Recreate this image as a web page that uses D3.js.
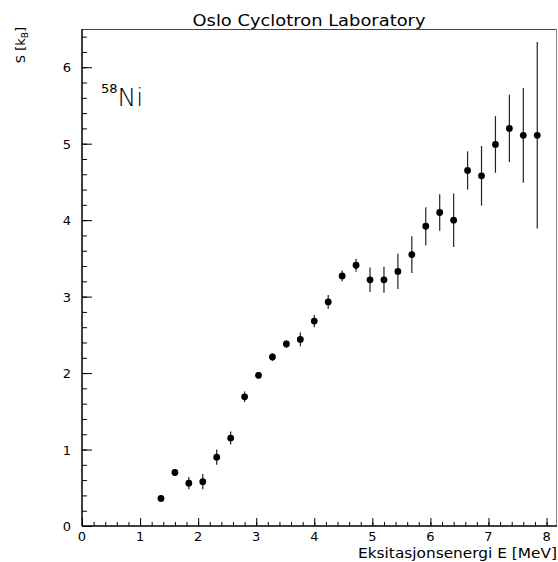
<!DOCTYPE html>
<html><head><meta charset="utf-8">
<script src="https://cdn.jsdelivr.net/npm/d3@7"></script>
<style>
body{margin:0;background:#fff;}
text{font-family:"DejaVu Sans",sans-serif;fill:#000;}
</style></head>
<body>
<svg id="c" width="558" height="562"></svg>
<script>
const energies = [1.36,1.60,1.84,2.08,2.32,2.56,2.80,3.04,3.28,3.52,3.76,4.00,4.24,4.48,4.72,4.96,5.20,5.44,5.68,5.92,6.16,6.40,6.64,6.88,7.12,7.36,7.60,7.84];
const entropy  = [0.36,0.70,0.56,0.58,0.90,1.15,1.69,1.97,2.21,2.38,2.44,2.68,2.93,3.27,3.41,3.22,3.22,3.33,3.55,3.92,4.10,4.00,4.65,4.58,4.99,5.20,5.11,5.11];
const errors   = [0.04,0.04,0.08,0.10,0.10,0.085,0.07,0.04,0.05,0.05,0.09,0.08,0.09,0.07,0.085,0.16,0.17,0.23,0.24,0.25,0.24,0.35,0.25,0.39,0.37,0.44,0.62,1.22];
const xTicks = [0,1,2,3,4,5,6,7,8];
const yTicks = [0,1,2,3,4,5,6];
const titleText = "Oslo Cyclotron Laboratory";
const xLabel = "Eksitasjonsenergi E [MeV]";

const svg = d3.select("#c");
const L=82, R=557, T=29, B=526;
const x = d3.scaleLinear().domain([0,8.18]).range([L,R]);
const y = d3.scaleLinear().domain([0,6.5]).range([B,T]);

// frame top/right
svg.append("line").attr("x1",L).attr("x2",R).attr("y1",T+0.5).attr("y2",T+0.5).attr("stroke","#444").attr("stroke-width",1);
svg.append("line").attr("x1",R-0.5).attr("x2",R-0.5).attr("y1",T).attr("y2",B).attr("stroke","#888").attr("stroke-width",1);

// minor ticks
const xMinor = d3.range(0,41).map(i=>i*0.2).filter(v=>v<=8.18);
const yMinor = d3.range(0,33).map(i=>i*0.2).filter(v=>v<=6.5);

const gx = svg.append("g").attr("transform",`translate(0,${B})`);
gx.call(d3.axisBottom(x).tickValues(xMinor).tickSize(-4).tickFormat(""));
gx.append("g").call(d3.axisBottom(x).tickValues(xTicks).tickSize(-8).tickPadding(0).tickFormat(""));
gx.selectAll(".domain").remove();
gx.selectAll("line").attr("stroke","#000");
svg.append("line").attr("x1",L).attr("x2",R).attr("y1",B).attr("y2",B).attr("stroke","#000").attr("stroke-width",1.5);
svg.append("g").selectAll("text").data(xTicks).join("text")
  .attr("x",d=>x(d)).attr("y",B+15).attr("text-anchor","middle").attr("font-size",13).text(d=>d);

const gy = svg.append("g").attr("transform",`translate(${L},0)`);
gy.call(d3.axisLeft(y).tickValues(yMinor).tickSize(-5).tickFormat(""));
gy.append("g").call(d3.axisLeft(y).tickValues(yTicks).tickSize(-10).tickFormat(""));
gy.selectAll(".domain").remove();
gy.selectAll("line").attr("stroke","#000");
svg.append("line").attr("x1",L).attr("x2",L).attr("y1",T).attr("y2",B).attr("stroke","#000").attr("stroke-width",1.5);
svg.append("g").selectAll("text").data(yTicks).join("text")
  .attr("x",L-15).attr("y",d=>y(d)+5).attr("text-anchor","middle").attr("font-size",13).text(d=>d);

// error bars
const pts = energies.map((e,i)=>({e,s:entropy[i],d:errors[i]}));
svg.append("g").selectAll("line").data(pts).join("line")
  .attr("x1",d=>x(d.e)).attr("x2",d=>x(d.e))
  .attr("y1",d=>y(d.s-d.d)).attr("y2",d=>y(d.s+d.d))
  .attr("stroke","#222").attr("stroke-width",1.2);
svg.append("g").selectAll("circle").data(pts).join("circle")
  .attr("cx",d=>x(d.e)).attr("cy",d=>y(d.s)).attr("r",3.4).attr("fill","#000");

// title
svg.append("text").attr("x",309).attr("y",26).attr("text-anchor","middle").attr("font-size",15)
  .attr("textLength",233).attr("lengthAdjust","spacingAndGlyphs").text(titleText);
// x label
svg.append("text").attr("x",557).attr("y",558).attr("text-anchor","end").attr("font-size",13.5)
  .attr("textLength",199).attr("lengthAdjust","spacingAndGlyphs").text(xLabel);
// y label
const yl = svg.append("text").attr("transform","translate(25,45) rotate(-90)").attr("text-anchor","middle").attr("font-size",13);
yl.append("tspan").text("S [k");
yl.append("tspan").attr("font-size",9).attr("dy",3).text("B");
yl.append("tspan").attr("dy",-3).text("]");
// nucleus label
const nl = svg.append("text").attr("x",101).attr("y",106);
nl.append("tspan").attr("font-size",13).attr("dy",-13).text("58");
nl.append("tspan").attr("font-size",25).attr("dy",13)
  .style("font-family","'DejaVu Sans ExtraLight','DejaVu Sans',sans-serif").style("font-weight","200").text("Ni");
</script>
</body></html>
